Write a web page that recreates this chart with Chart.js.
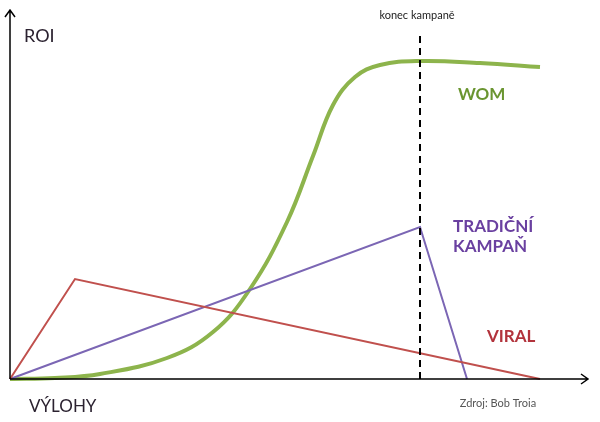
<!DOCTYPE html>
<html>
<head>
<meta charset="utf-8">
<script src="https://cdn.jsdelivr.net/npm/chart.js@4"></script>
<style>
  body { margin: 0; background: #fff; }
  #wrap { width: 600px; height: 422px; }
</style>
</head>
<body>
<div id="wrap"><canvas id="myChart"></canvas></div>
<script>
// values (x = spend, y = ROI)
const womX = [0, 45, 90, 157, 203, 240, 277, 303, 323, 345, 370, 410, 470, 530];
const womY = [0, 1, 5, 21, 47, 90, 157, 223, 274, 302, 314, 318, 316, 312];
const tradX = [0, 410, 457];
const tradY = [0, 152, 0];
const viralX = [0, 65, 530];
const viralY = [0, 100, 0];
const campaignEnd = 410;
const campaignTop = 347;

const pts = (xs, ys) => xs.map((x, i) => ({x: x, y: ys[i]}));

// text labels (data coordinates)
const labels = [
  {text: 'ROI', x: 14, y: 337, font: '18px Lato', color: '#2b2230', align: 'left'},
  {text: 'VÝLOHY', x: 19, y: -33, font: '17px Lato', color: '#2b2230', align: 'left'},
  {text: 'konec kampaně', x: 407, y: 360, font: '11px Lato', color: '#222', align: 'center'},
  {text: 'Zdroj: Bob Troia', x: 488, y: -28, font: '11px Lato', color: '#555', align: 'center'},
  {text: 'WOM', x: 448, y: 279, font: 'bold 17px Lato', color: '#6a9530', align: 'left'},
  {text: 'TRADIČNÍ', x: 443, y: 147, font: 'bold 17px Lato', color: '#6a40a0', align: 'left'},
  {text: 'KAMPAŇ', x: 443, y: 127, font: 'bold 17px Lato', color: '#6a40a0', align: 'left'},
  {text: 'VIRAL', x: 477, y: 37, font: 'bold 17px Lato', color: '#b2333c', align: 'left'}
];

const axesPlugin = {
  id: 'axes',
  afterDraw(chart) {
    const {ctx, chartArea: a, scales} = chart;
    ctx.save();
    ctx.strokeStyle = '#000';
    ctx.lineWidth = 1.5;
    ctx.beginPath();
    ctx.moveTo(a.left, a.bottom);
    ctx.lineTo(a.right, a.bottom);
    ctx.moveTo(a.left, a.bottom);
    ctx.lineTo(a.left, a.top);
    // arrow heads
    ctx.moveTo(a.right - 7, a.bottom - 5);
    ctx.lineTo(a.right, a.bottom);
    ctx.lineTo(a.right - 7, a.bottom + 5);
    ctx.moveTo(a.left - 5, a.top + 7);
    ctx.lineTo(a.left, a.top);
    ctx.lineTo(a.left + 5, a.top + 7);
    ctx.stroke();

    ctx.textBaseline = 'alphabetic';
    labels.forEach(l => {
      ctx.font = l.font;
      ctx.fillStyle = l.color;
      ctx.textAlign = l.align;
      ctx.fillText(l.text, scales.x.getPixelForValue(l.x), scales.y.getPixelForValue(l.y));
    });
    ctx.restore();
  }
};

new Chart(document.getElementById('myChart'), {
  type: 'line',
  data: {
    datasets: [{
      label: 'konec kampaně',
      data: [{x: campaignEnd, y: 0}, {x: campaignEnd, y: campaignTop}],
      borderColor: '#000',
      borderWidth: 2,
      borderDash: [7, 5],
      pointRadius: 0,
      clip: false
    },
    {
      label: 'VIRAL',
      data: pts(viralX, viralY),
      borderColor: '#c0504d',
      borderWidth: 2,
      pointRadius: 0,
      tension: 0,
      clip: false
    },
    {
      label: 'TRADIČNÍ KAMPAŇ',
      data: pts(tradX, tradY),
      borderColor: '#7b66b4',
      borderWidth: 2,
      pointRadius: 0,
      tension: 0,
      clip: false
    },
    {
      label: 'WOM',
      data: pts(womX, womY),
      borderColor: '#8db44c',
      borderWidth: 4,
      pointRadius: 0,
      tension: 0.4,
      clip: false
    }]
  },
  options: {
    responsive: true,
    maintainAspectRatio: false,
    animation: false,
    layout: { padding: {left: 10, top: 10, right: 12, bottom: 43} },
    plugins: { legend: {display: false}, tooltip: {enabled: false} },
    scales: {
      x: { type: 'linear', min: 0, max: 578, display: false },
      y: { min: 0, max: 369, display: false }
    }
  },
  plugins: [axesPlugin]
});
</script>
</body>
</html>
